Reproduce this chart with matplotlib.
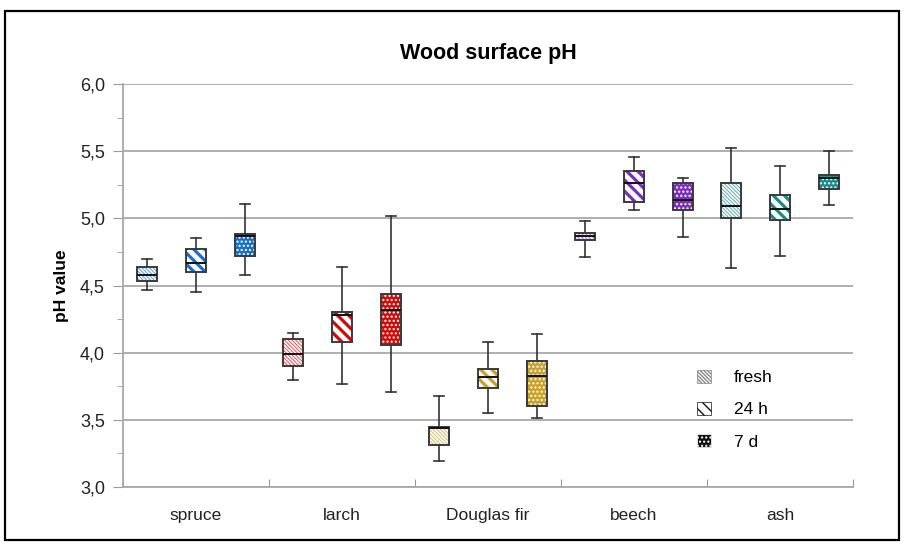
import numpy as np
import matplotlib.pyplot as plt
from matplotlib.patches import PathPatch, Patch, Rectangle
from matplotlib.colors import to_rgb
from matplotlib.ticker import MultipleLocator, FuncFormatter

# ============================================================
# DATA
# ============================================================

species = ["spruce", "larch", "Douglas fir", "beech", "ash"]
conditions = ["fresh", "24 h", "7 d"]

species_colors = ["#1b6fc8", "#d20a0a", "#c9a02c", "#7a30b8", "#1b8c88"]

# order: spruce fresh, 24 h, 7 d, larch fresh, ... ash 7 d
whis_low = [4.47, 4.45, 4.58, 3.80, 3.77, 3.71, 3.19, 3.55, 3.51,
            4.71, 5.06, 4.86, 4.63, 4.72, 5.10]
q1 = [4.53, 4.60, 4.72, 3.90, 4.08, 4.06, 3.31, 3.74, 3.60,
      4.84, 5.12, 5.06, 5.00, 4.99, 5.22]
med = [4.58, 4.67, 4.87, 3.99, 4.28, 4.32, 3.44, 3.82, 3.83,
       4.87, 5.26, 5.14, 5.09, 5.07, 5.30]
q3 = [4.64, 4.77, 4.88, 4.10, 4.30, 4.44, 3.45, 3.88, 3.94,
      4.89, 5.35, 5.26, 5.26, 5.17, 5.32]
whis_high = [4.70, 4.85, 5.11, 4.15, 4.64, 5.02, 3.68, 4.08, 4.14,
             4.98, 5.46, 5.30, 5.52, 5.39, 5.50]

# ============================================================
# STYLE
# ============================================================

plt.rcParams["font.family"] = ["Liberation Sans", "DejaVu Sans"]

offsets = [-0.335, 0.0, 0.335]


def lighten(c, f):
    r, g, b = to_rgb(c)
    return (r + (1 - r) * f, g + (1 - g) * f, b + (1 - b) * f)


def style_for(cond, color):
    # returns facecolor, hatch color, hatch, hatch linewidth
    if cond == 0:
        return "white", lighten(color, 0.3), "\\" * 9, 0.7
    if cond == 1:
        return "white", color, "\\" * 3, 2.3
    return color, "white", "." * 4, 1.0


def hatched(path, transform, face, hcol, hatch, hlw, zorder):
    with plt.rc_context({"hatch.linewidth": hlw}):
        p = PathPatch(path, transform=transform, facecolor=face,
                      edgecolor=hcol, linewidth=0, hatch=hatch, zorder=zorder)
    if hasattr(p, "set_hatch_linewidth"):
        p.set_hatch_linewidth(hlw)
    return p


# ============================================================
# FIGURE
# ============================================================

fig = plt.figure(figsize=(9.05, 5.46), dpi=100)
ax = fig.add_axes([123 / 905, 1 - 487 / 546, 730 / 905, 403 / 546])

stats = []
positions = []
for i in range(len(species)):
    for j in range(len(conditions)):
        k = i * 3 + j
        stats.append({"whislo": whis_low[k], "q1": q1[k], "med": med[k],
                      "q3": q3[k], "whishi": whis_high[k], "fliers": []})
        positions.append(i + 0.5 + offsets[j])

bp = ax.bxp(
    stats,
    positions=positions,
    widths=0.135,
    patch_artist=True,
    showfliers=False,
    capwidths=0.065,
    boxprops=dict(facecolor="none", edgecolor="#3a3a3a", linewidth=1.4, zorder=4),
    medianprops=dict(color="#111111", linewidth=1.4, zorder=5),
    whiskerprops=dict(color="#333333", linewidth=1.2),
    capprops=dict(color="#333333", linewidth=1.2),
    manage_ticks=False,
)

for k, box in enumerate(bp["boxes"]):
    i, j = divmod(k, 3)
    face, hcol, hatch, hlw = style_for(j, species_colors[i])
    ax.add_patch(hatched(box.get_path(), box.get_transform(),
                         face, hcol, hatch, hlw, 3))

# ============================================================
# AXES
# ============================================================

ax.set_xlim(0, 5)
ax.set_ylim(3.0, 6.0)

ax.yaxis.set_major_locator(MultipleLocator(0.5))
ax.yaxis.set_minor_locator(MultipleLocator(0.25))
ax.yaxis.set_major_formatter(FuncFormatter(lambda v, p: f"{v:.1f}".replace(".", ",")))
ax.tick_params(axis="y", which="major", length=7, color="#999999",
               labelsize=13, labelcolor="#222222", pad=6)
ax.tick_params(axis="y", which="minor", length=4, color="#999999")

ax.set_xticks(np.arange(0, 6))
ax.set_xticklabels([])
ax.set_xticks(np.arange(len(species)) + 0.5, minor=True)
ax.set_xticklabels(species, minor=True)
ax.tick_params(axis="x", which="major", direction="in", length=6, color="#999999")
ax.tick_params(axis="x", which="minor", length=0, labelsize=12.5,
               labelcolor="#222222", pad=15)

ax.grid(axis="y", which="major", color="#a8a8a8", linewidth=1.3)
ax.set_axisbelow(True)

for s in ["top", "right"]:
    ax.spines[s].set_visible(False)
for s in ["left", "bottom"]:
    ax.spines[s].set_color("#a8a8a8")
    ax.spines[s].set_linewidth(1.3)

ax.set_ylabel("pH value", fontsize=12.5, fontweight="bold", labelpad=8)
ax.set_title("Wood surface pH", fontsize=15.5, fontweight="bold", pad=18)

# ============================================================
# LEGEND
# ============================================================

handles = []
for j, cond in enumerate(conditions):
    face, hcol, hatch, hlw = style_for(j, "#111111")
    if j == 0:
        hcol = "#888888"
    with plt.rc_context({"hatch.linewidth": hlw}):
        h = Patch(facecolor=face, edgecolor=hcol, hatch=hatch, linewidth=0.5,
                  label=cond)
    if hasattr(h, "set_hatch_linewidth"):
        h.set_hatch_linewidth(hlw * 0.7)
    handles.append(h)

ax.legend(handles=handles, loc="upper left", bbox_to_anchor=(0.765, 0.33),
          frameon=False, fontsize=12.5, handlelength=0.8, handleheight=0.8,
          handletextpad=1.3, labelspacing=0.95)

# outer frame
fig.patches.append(Rectangle((5 / 905, 1 - 540 / 546), 894 / 905, 529 / 546,
                             transform=fig.transFigure, fill=False,
                             edgecolor="black", linewidth=1.6))

fig.savefig("out.png", dpi=100)
